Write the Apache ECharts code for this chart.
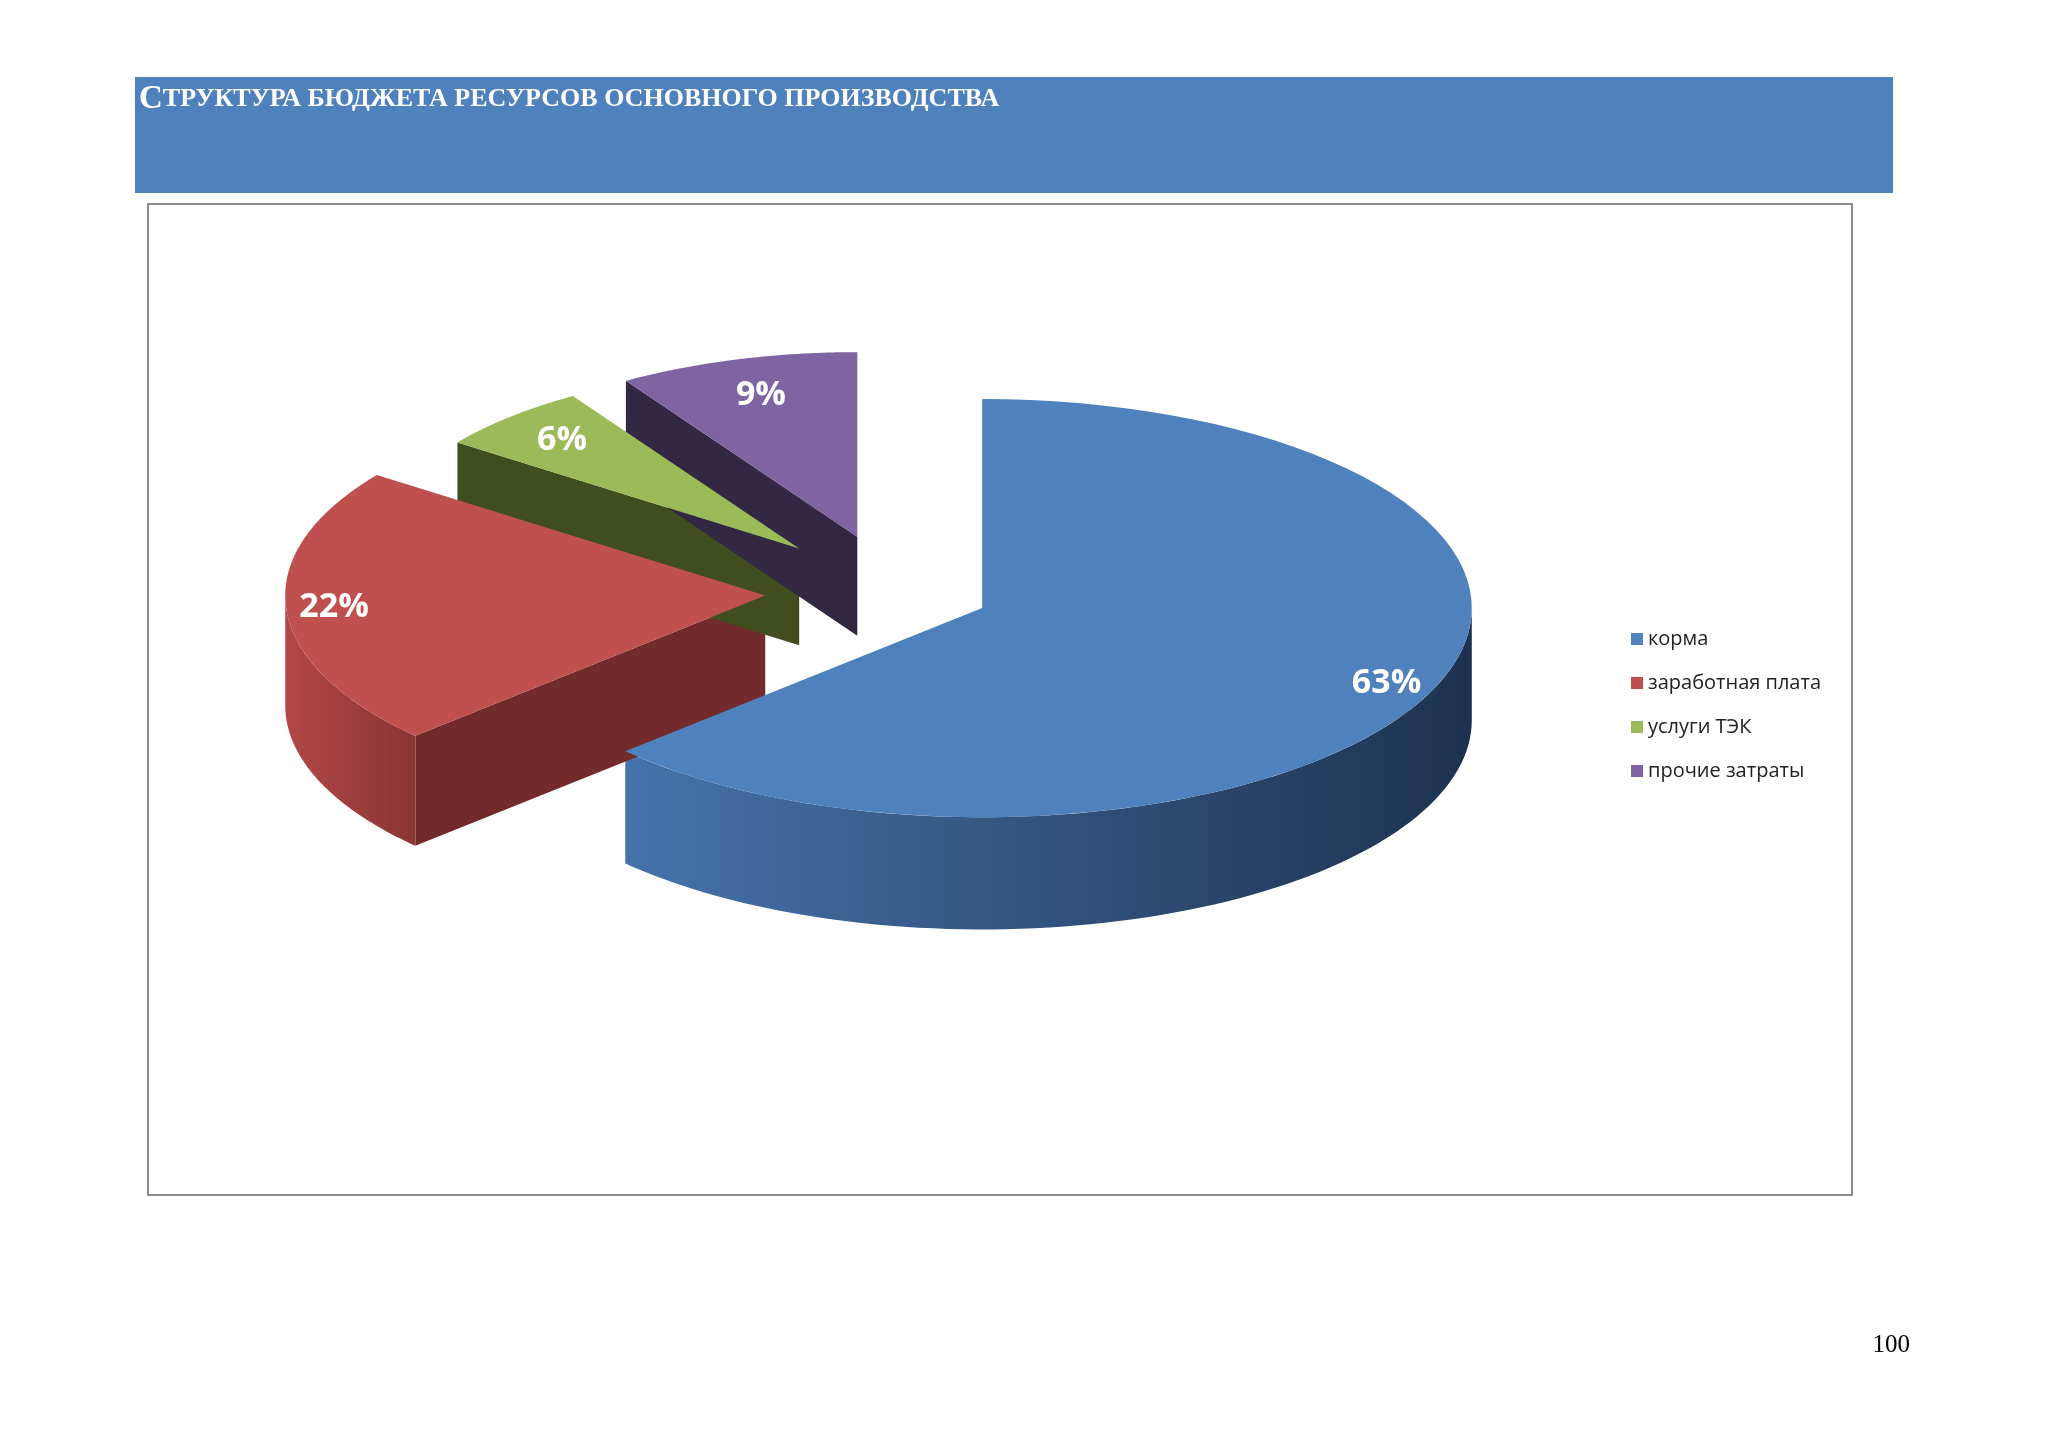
<!DOCTYPE html>
<html>
<head>
<meta charset="utf-8">
<script src="https://cdn.jsdelivr.net/npm/echarts@6/dist/echarts.min.js"></script>
<style>html,body{margin:0;background:#fff}#main{width:2048px;height:1448px}</style>
</head>
<body>
<div id="main"></div>
<script>
// данные диаграммы
var categories = ['корма', 'заработная плата', 'услуги ТЭК', 'прочие затраты'];
var values = [63, 22, 6, 9];
var topColors = ['#4f81bd', '#c0504d', '#9bbb59', '#8064a2'];
var sideColors = [['#4673ab', '#1d3250'], ['#b24845', '#8a3533'], ['#556b2a', '#3d4d1e'], ['#3d3156', '#2b2340']];
var faceColors = ['#2a4670', '#722b2a', '#3f4d1f', '#332843'];
var explode = [95, 130, 140, 135];
var scale = [1.02, 1, 0.88, 0.9];
var labelK = [0.9, 0.9, 0.82, 0.8];

var cx = 895, cy = 592, rx = 480, ry = 205, depth = 110;
var total = values.reduce(function (a, b) { return a + b; }, 0);
var angles = [], acc = 0;
values.forEach(function (v) {
    var s = acc / total * Math.PI * 2;
    acc += v;
    angles.push([s, acc / total * Math.PI * 2]);
});

function pt(x0, y0, t, k) {
    return [x0 + rx * k * Math.sin(t), y0 - ry * k * Math.cos(t)];
}

// mode 'side' — стенки, 'top' — верхние грани и подписи
function makeRender(mode) {
    return function (params, api) {
        var i = params.dataIndex;
        var s = angles[i][0], e = angles[i][1], m = (s + e) / 2, k = scale[i];
        var x0 = cx + explode[i] * Math.sin(m);
        var y0 = cy - explode[i] * Math.cos(m) * ry / rx;
        var children = [], n = 80;
        if (mode === 'side') {
            [[s, Math.sin(s) < 0], [e, Math.sin(e) > 0]].forEach(function (f) {
                if (!f[1]) return;
                var p = pt(x0, y0, f[0], k);
                children.push({type: 'polygon', shape: {points: [[x0, y0], p, [p[0], p[1] + depth * k], [x0, y0 + depth * k]]},
                    style: {fill: faceColors[i]}});
            });
            var a0 = Math.max(s, Math.PI / 2), a1 = Math.min(e, Math.PI * 1.5);
            if (a1 > a0) {
                var up = [], down = [];
                for (var j = 0; j <= n; j++) {
                    var p = pt(x0, y0, a0 + (a1 - a0) * j / n, k);
                    up.push(p);
                    down.unshift([p[0], p[1] + depth * k]);
                }
                children.push({type: 'polygon', shape: {points: up.concat(down)},
                    style: {fill: new echarts.graphic.LinearGradient(0, 0, 1, 0, [
                        {offset: 0, color: sideColors[i][0]}, {offset: 1, color: sideColors[i][1]}])}});
            }
        } else {
            var topPts = [[x0, y0]];
            for (var j = 0; j <= n; j++) topPts.push(pt(x0, y0, s + (e - s) * j / n, k));
            children.push({type: 'polygon', shape: {points: topPts}, style: {fill: topColors[i]}});
            var lp = pt(x0, y0, m, k * labelK[i]);
            children.push({type: 'text', x: lp[0], y: lp[1], style: {
                text: Math.round(values[i] / total * 100) + '%', fill: '#fff',
                font: 'bold 34px "Open Sans"', align: 'center', verticalAlign: 'middle'}});
        }
        return {type: 'group', children: children};
    };
}

var chart = echarts.init(document.getElementById('main'));
chart.setOption({
    animation: false,
    color: topColors,
    graphic: [
        {type: 'rect', shape: {x: 135, y: 77, width: 1758, height: 116}, style: {fill: '#4f81bd'}},
        {type: 'rect', shape: {x: 148, y: 204, width: 1704, height: 991}, style: {fill: 'none', stroke: '#8c8c8c', lineWidth: 2}},
        {type: 'text', x: 139, y: 99, style: {
            text: '{a|С}{b|ТРУКТУРА БЮДЖЕТА РЕСУРСОВ ОСНОВНОГО ПРОИЗВОДСТВА}', verticalAlign: 'middle',
            rich: {a: {font: 'bold 33px "Liberation Serif"', fill: '#fff'},
                   b: {font: 'bold 26px "Liberation Serif"', fill: '#fff'}}}},
        {type: 'text', x: 1910, y: 1345, style: {text: '100', font: '25px "Liberation Serif"', fill: '#000', align: 'right', verticalAlign: 'middle'}}
    ],
    legend: {
        orient: 'vertical', left: 1626, top: 624, itemGap: 24, itemWidth: 12, itemHeight: 12,
        icon: 'rect', data: categories,
        textStyle: {fontFamily: 'Open Sans', fontSize: 20, color: '#222'}
    },
    series: [
        {type: 'custom', coordinateSystem: 'none', renderItem: makeRender('side'), data: values, silent: true},
        {type: 'custom', coordinateSystem: 'none', renderItem: makeRender('top'), data: values, silent: true},
        {type: 'pie', radius: [0, 0], center: [-100, -100], label: {show: false},
            data: categories.map(function (c, k) { return {name: c, value: values[k]}; })}
    ]
});
</script>
</body>
</html>
